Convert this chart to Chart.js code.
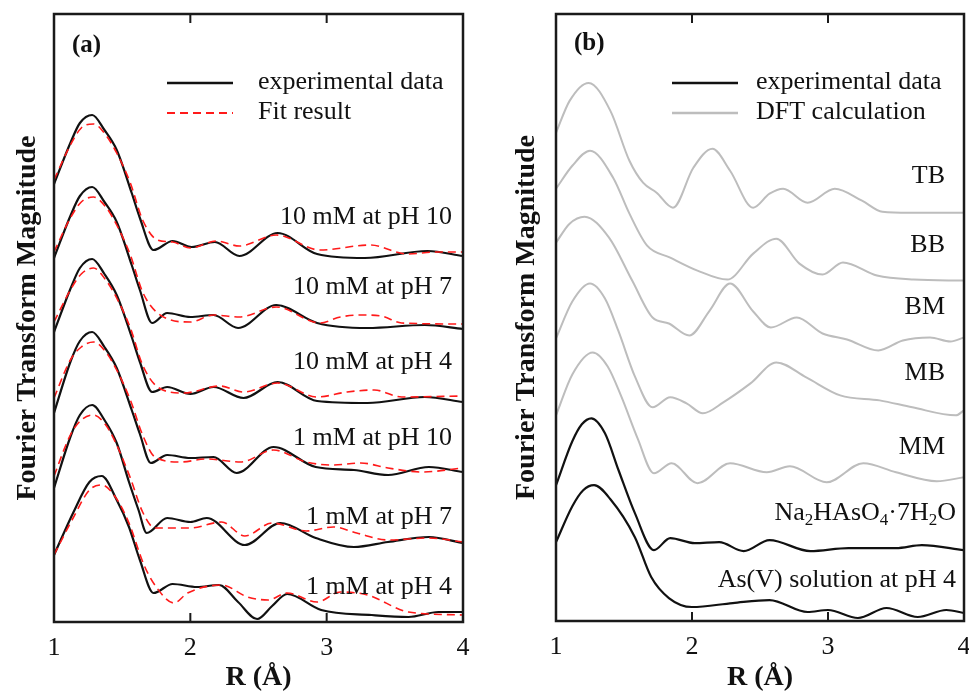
<!DOCTYPE html>
<html lang="en">
<head>
<meta charset="UTF-8">
<title>Fourier transform magnitude</title>
<script src="https://cdn.jsdelivr.net/npm/chart.js"></script>
<style>
  html, body { margin: 0; padding: 0; background: #fff; overflow: hidden; }
  .panel { position: absolute; top: 0; }
</style>
</head>
<body>
<div class="panel" style="left:0"><canvas id="chartA" width="484" height="695"></canvas></div>
<div class="panel" style="left:484px"><canvas id="chartB" width="485" height="695"></canvas></div>
<script>
// x range (R in Angstrom) and the arbitrary magnitude range used for stacking
const rMin = 1, rMax = 4;
const magMax = 608;

// panel (a): experimental curves and fits, [R, offset magnitude]
const exp10pH10 = [[1.00,438],[1.12,479],[1.19,499],[1.28,507],[1.37,492],[1.46,472],[1.57,429],[1.63,404],[1.73,372],[1.87,381],[2.01,375],[2.18,380],[2.36,366],[2.64,389],[2.93,368],[3.28,364],[3.74,371],[4.00,366]];
const fit10pH10 = [[1.00,442],[1.12,477],[1.20,494],[1.29,498],[1.38,487],[1.46,469],[1.56,439],[1.65,402],[1.76,382],[1.87,380],[2.00,374],[2.19,381],[2.36,376],[2.63,387],[2.95,372],[3.32,377],[3.59,368],[3.80,370],[4.00,370]];
const exp10pH7 = [[1.00,364],[1.12,406],[1.19,426],[1.28,435],[1.37,420],[1.46,400],[1.57,357],[1.63,332],[1.72,299],[1.83,309],[2.00,305],[2.17,307],[2.35,294],[2.63,317],[2.93,299],[3.30,294],[3.72,297],[4.00,293]];
const fit10pH7 = [[1.00,370],[1.12,404],[1.20,420],[1.29,425],[1.38,415],[1.46,397],[1.56,367],[1.65,330],[1.76,309],[2.00,300],[2.17,307],[2.36,305],[2.63,315],[2.95,299],[3.10,305],[3.25,307],[3.40,306],[3.55,299],[4.00,298]];
const exp10pH4 = [[1.00,290],[1.12,333],[1.19,354],[1.28,363],[1.37,348],[1.46,327],[1.57,285],[1.63,260],[1.72,230],[1.83,235],[2.00,228],[2.17,235],[2.39,224],[2.64,240],[2.93,221],[3.30,219],[3.72,225],[4.00,220]];
const fit10pH4 = [[1.00,300],[1.12,332],[1.20,348],[1.29,354],[1.38,342],[1.46,324],[1.56,294],[1.65,257],[1.76,235],[1.95,229],[2.22,236],[2.39,230],[2.64,239],[2.93,225],[3.15,230],[3.35,232],[3.55,225],[4.00,226]];
const exp1pH10 = [[1.00,209],[1.12,260],[1.19,281],[1.28,290],[1.37,275],[1.46,254],[1.57,212],[1.63,188],[1.71,159],[1.83,167],[2.00,164],[2.17,165],[2.34,149],[2.61,175],[2.92,155],[3.20,152],[3.45,147],[3.75,155],[4.00,150]];
const fit1pH10 = [[1.00,224],[1.12,262],[1.20,275],[1.29,280],[1.38,270],[1.46,252],[1.56,222],[1.65,187],[1.74,165],[1.93,160],[2.12,163],[2.37,160],[2.61,172],[2.85,160],[3.05,157],[3.25,159],[3.45,154],[3.70,150],[4.00,154]];
const exp1pH7 = [[1.00,134],[1.12,185],[1.19,207],[1.28,217],[1.37,202],[1.46,179],[1.55,140],[1.62,112],[1.68,89],[1.83,104],[2.00,100],[2.12,104],[2.40,77],[2.66,99],[2.92,84],[3.20,75],[3.45,80],[3.75,85],[4.00,79]];
const fit1pH7 = [[1.00,146],[1.12,187],[1.20,202],[1.29,207],[1.38,197],[1.46,177],[1.56,144],[1.65,110],[1.74,94],[2.00,94],[2.23,100],[2.40,86],[2.60,99],[2.85,91],[3.05,95],[3.22,89],[3.45,82],[3.75,84],[4.00,80]];
const exp1pH4 = [[1.00,67],[1.14,109],[1.26,140],[1.35,146],[1.46,122],[1.55,95],[1.63,62],[1.73,29],[1.87,38],[2.05,35],[2.21,37],[2.35,20],[2.49,3],[2.60,16],[2.71,28],[2.96,12],[3.33,7],[3.60,5],[3.82,10],[4.00,10]];
const fit1pH4 = [[1.00,67],[1.14,104],[1.26,132],[1.35,137],[1.45,125],[1.55,99],[1.66,57],[1.75,35],[1.88,19],[1.98,29],[2.23,37],[2.42,25],[2.57,22],[2.71,29],[2.93,20],[3.10,30],[3.30,27],[3.60,10],[4.00,7]];

// panel (b): DFT calculations (grey) and reference spectra (black)
const dftTB = [[1.00,489],[1.10,521],[1.24,539],[1.40,511],[1.54,461],[1.64,439],[1.74,429],[1.86,414],[2.01,454],[2.15,473],[2.28,451],[2.45,414],[2.57,428],[2.67,433],[2.85,419],[3.05,433],[3.25,421],[3.40,410],[3.60,409],[4.00,409]];
const dftBB = [[1.00,433],[1.12,456],[1.25,471],[1.42,444],[1.54,408],[1.67,376],[1.84,364],[2.04,351],[2.26,342],[2.45,368],[2.62,383],[2.79,358],[2.96,347],[3.11,359],[3.36,346],[3.63,342],[4.00,341]];
const dftBM = [[1.00,379],[1.10,398],[1.21,405],[1.39,384],[1.56,341],[1.71,304],[1.83,298],[1.98,286],[2.13,311],[2.28,338],[2.45,310],[2.58,294],[2.77,304],[2.96,288],[3.14,282],[3.37,271],[3.55,281],[3.75,284],[3.90,280],[4.00,284]];
const dftMB = [[1.00,283],[1.12,320],[1.25,338],[1.36,323],[1.46,290],[1.58,245],[1.71,214],[1.84,224],[1.96,218],[2.08,208],[2.23,219],[2.43,238],[2.62,259],[2.84,244],[3.09,226],[3.38,221],[3.62,214],[3.94,206],[4.00,211]];
const dftMM = [[1.00,206],[1.12,247],[1.27,269],[1.38,255],[1.48,225],[1.60,183],[1.72,148],[1.85,158],[2.04,138],[2.28,158],[2.55,149],[2.72,155],[2.99,139],[3.26,158],[3.50,149],[3.80,140],[4.00,144]];
const refNa = [[1.00,136],[1.12,180],[1.19,197],[1.26,203],[1.36,188],[1.46,151],[1.58,108],[1.72,71],[1.84,83],[2.02,78],[2.20,79],[2.38,70],[2.57,81],[2.87,70],[3.15,73],[3.50,73],[3.69,76],[4.00,71]];
const refSolution = [[1.00,79],[1.12,115],[1.20,131],[1.28,136],[1.40,122],[1.58,84],[1.70,44],[1.83,23],[2.00,14],[2.30,18],[2.57,21],[2.85,9],[3.00,11],[3.22,3],[3.43,13],[3.66,4],[3.87,11],[4.00,8]];

const serif = "'Liberation Serif', 'Times New Roman', serif";
const ink = '#111';

const toXY = pts => pts.map(p => ({ x: p[0], y: p[1] }));
const expLine = (label, pts) => ({ label, data: toXY(pts), borderColor: ink, borderWidth: 2.2 });
const fitLine = (label, pts) => ({ label, data: toXY(pts), borderColor: '#ff1a1a', borderWidth: 1.6, borderDash: [8, 5] });
const dftLine = (label, pts) => ({ label, data: toXY(pts), borderColor: '#bdbdbd', borderWidth: 2 });

// text with optional subscripts, drawn centred on y
function drawRuns(ctx, runs, x, y, align, size, weight) {
  const main = `${weight || 'normal'} ${size}px ${serif}`;
  const small = `${weight || 'normal'} ${Math.round(size * 0.66)}px ${serif}`;
  let total = 0;
  runs.forEach(r => { ctx.font = r.sub ? small : main; r.w = ctx.measureText(r.t).width; total += r.w; });
  let cx = align === 'right' ? x - total : x;
  ctx.textAlign = 'left';
  ctx.textBaseline = 'middle';
  ctx.fillStyle = ink;
  runs.forEach(r => {
    ctx.font = r.sub ? small : main;
    ctx.fillText(r.t, cx, r.sub ? y + size * 0.3 : y);
    cx += r.w;
  });
}

// frame, inner tick marks, legend and curve labels
const panelDecor = {
  id: 'panelDecor',
  afterDraw(chart, args, opts) {
    const { ctx, chartArea: a, scales: { x } } = chart;
    ctx.save();
    ctx.strokeStyle = '#1a1a1a';
    ctx.lineWidth = 2.5;
    ctx.strokeRect(a.left, a.top, a.right - a.left, a.bottom - a.top);
    ctx.lineWidth = 2;
    opts.innerTicks.forEach(v => {
      const px = x.getPixelForValue(v);
      ctx.beginPath();
      ctx.moveTo(px, a.top); ctx.lineTo(px, a.top + 9);
      ctx.moveTo(px, a.bottom); ctx.lineTo(px, a.bottom - 9);
      ctx.stroke();
    });

    drawRuns(ctx, [{ t: opts.tag.text }], opts.tag.x, opts.tag.y, 'left', 25, 'bold');

    opts.legend.forEach(item => {
      const ds = chart.data.datasets[item.ds];
      ctx.strokeStyle = ds.borderColor;
      ctx.lineWidth = ds.borderWidth + 0.4;
      ctx.setLineDash(ds.borderDash || []);
      ctx.beginPath();
      ctx.moveTo(item.x0, item.y); ctx.lineTo(item.x1, item.y);
      ctx.stroke();
      ctx.setLineDash([]);
      drawRuns(ctx, [{ t: item.text }], item.tx, item.y - 1, 'left', 26);
    });

    opts.labels.forEach(l => drawRuns(ctx, l.runs, l.x, l.y, 'right', 26));
    ctx.restore();
  }
};

function makeChart(id, datasets, o) {
  return new Chart(document.getElementById(id), {
    type: 'line',
    data: { datasets },
    options: {
      responsive: false,
      animation: false,
      layout: { padding: { left: 0, top: 14, right: o.padRight, bottom: 0 } },
      elements: { point: { radius: 0 }, line: { cubicInterpolationMode: 'monotone', fill: false } },
      scales: {
        x: {
          type: 'linear', min: rMin, max: rMax,
          grid: { display: false }, border: { display: false },
          ticks: { stepSize: 1, padding: 3, color: ink, font: { family: serif, size: 26 } },
          title: { display: true, text: 'R (Å)', color: ink, font: { family: serif, size: 28, weight: 'bold' }, padding: { top: 0, bottom: 0 } },
          afterFit: s => { s.height = o.xAxisHeight; s.paddingLeft = 0; s.paddingRight = 0; }
        },
        y: {
          min: 0, max: magMax,
          grid: { display: false }, border: { display: false },
          ticks: { display: false },
          title: { display: true, text: 'Fourier Transform Magnitude', color: ink, font: { family: serif, size: 28, weight: 'bold' }, padding: { top: o.yTitlePad, bottom: 0 } },
          afterFit: s => { s.width = o.yAxisWidth; s.paddingTop = 0; s.paddingBottom = 0; }
        }
      },
      plugins: {
        legend: { display: false },
        tooltip: { enabled: false },
        panelDecor: o.decor
      }
    },
    plugins: [panelDecor]
  });
}

makeChart('chartA', [
  fitLine('10 mM at pH 10 fit', fit10pH10),
  fitLine('10 mM at pH 7 fit', fit10pH7),
  fitLine('10 mM at pH 4 fit', fit10pH4),
  fitLine('1 mM at pH 10 fit', fit1pH10),
  fitLine('1 mM at pH 7 fit', fit1pH7),
  fitLine('1 mM at pH 4 fit', fit1pH4),
  expLine('10 mM at pH 10', exp10pH10),
  expLine('10 mM at pH 7', exp10pH7),
  expLine('10 mM at pH 4', exp10pH4),
  expLine('1 mM at pH 10', exp1pH10),
  expLine('1 mM at pH 7', exp1pH7),
  expLine('1 mM at pH 4', exp1pH4)
], {
  padRight: 21, xAxisHeight: 73, yAxisWidth: 54, yTitlePad: 11,
  decor: {
    innerTicks: [2, 3],
    tag: { text: '(a)', x: 72, y: 46 },
    legend: [
      { ds: 6, text: 'experimental data', x0: 167, x1: 233, y: 83, tx: 258 },
      { ds: 0, text: 'Fit result', x0: 167, x1: 233, y: 113, tx: 258 }
    ],
    labels: [
      { runs: [{ t: '10 mM at pH 10' }], x: 452, y: 217 },
      { runs: [{ t: '10 mM at pH 7' }], x: 452, y: 287 },
      { runs: [{ t: '10 mM at pH 4' }], x: 452, y: 362 },
      { runs: [{ t: '1 mM at pH 10' }], x: 452, y: 438 },
      { runs: [{ t: '1 mM at pH 7' }], x: 452, y: 517 },
      { runs: [{ t: '1 mM at pH 4' }], x: 452, y: 587 }
    ]
  }
});

makeChart('chartB', [
  expLine('Na2HAsO4·7H2O', refNa),
  expLine('As(V) solution at pH 4', refSolution),
  dftLine('TB', dftTB),
  dftLine('BB', dftBB),
  dftLine('BM', dftBM),
  dftLine('MB', dftMB),
  dftLine('MM', dftMM)
], {
  padRight: 5, xAxisHeight: 74, yAxisWidth: 72, yTitlePad: 26,
  decor: {
    innerTicks: [2, 3],
    tag: { text: '(b)', x: 90, y: 44 },
    legend: [
      { ds: 0, text: 'experimental data', x0: 188, x1: 254, y: 83, tx: 272 },
      { ds: 2, text: 'DFT calculation', x0: 188, x1: 254, y: 113, tx: 272 }
    ],
    labels: [
      { runs: [{ t: 'TB' }], x: 461, y: 176 },
      { runs: [{ t: 'BB' }], x: 461, y: 245 },
      { runs: [{ t: 'BM' }], x: 461, y: 307 },
      { runs: [{ t: 'MB' }], x: 461, y: 373 },
      { runs: [{ t: 'MM' }], x: 461, y: 447 },
      { runs: [{ t: 'Na' }, { t: '2', sub: true }, { t: 'HAsO' }, { t: '4', sub: true }, { t: '·7H' }, { t: '2', sub: true }, { t: 'O' }], x: 472, y: 513 },
      { runs: [{ t: 'As(V) solution at pH 4' }], x: 472, y: 580 }
    ]
  }
});
</script>
</body>
</html>
